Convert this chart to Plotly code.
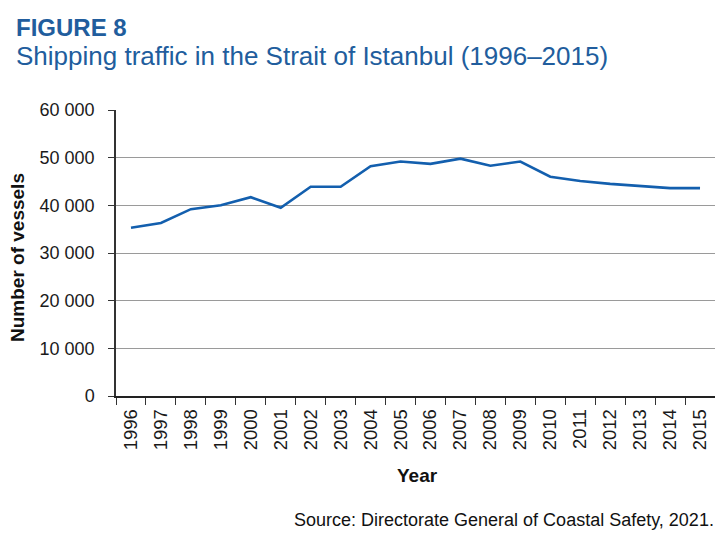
import plotly.graph_objects as go

years = [str(y) for y in range(1996, 2016)]
vessels = [35300, 36300, 39200, 40000, 41700, 39500, 43900, 43900, 48200, 49200,
           48700, 49800, 48300, 49200, 46000, 45100, 44500, 44000, 43600, 43600]
y_ticks = [0, 10000, 20000, 30000, 40000, 50000, 60000]

# page body has an 8px margin: figure drawn at offset (8, 8)
OFF = 8
W, H = 715, 527
L, R, T, B = 108, 8, 102, 139
PW, PH = W - L - R, H - T - B


def px(xs):
    return (xs - OFF - L) / PW


def py(ys):
    return (H - B - (ys - OFF)) / PH


blue = "#215d9d"
fig = go.Figure()
fig.add_trace(go.Scatter(x=years, y=vessels, mode="lines",
                         line=dict(color="#135fae", width=2.6)))

fig.update_layout(
    width=W, height=H,
    margin=dict(l=L, r=R, t=T, b=B, pad=0),
    plot_bgcolor="white", paper_bgcolor="white",
    separators=". ",
    showlegend=False,
    font=dict(family="Liberation Sans, Arial, sans-serif", color="#1a1a1a", size=18),
)
fig.update_xaxes(
    type="category", range=[-0.5, 19.5], tickson="boundaries", ticks="outside", ticklen=7,
    tickcolor="#333", tickangle=-90, tickfont=dict(size=18.5), ticklabelstandoff=4,
    showline=True, linecolor="#222", linewidth=1.5, showgrid=False,
)
fig.update_yaxes(
    range=[0, 60000], tickvals=y_ticks, tickformat=",", ticks="outside", ticklen=6,
    tickcolor="#333", tickfont=dict(size=18), ticklabelstandoff=10,
    showline=True, linecolor="#333", linewidth=1.5,
    showgrid=True, gridcolor="#9a9a9a", gridwidth=1, zeroline=False,
)
fig.add_annotation(text="<b>FIGURE 8</b>", xref="paper", yref="paper",
                   x=px(14), y=py(27), xanchor="left", yanchor="middle",
                   showarrow=False, font=dict(size=24, color=blue,
                                              family="Liberation Sans Narrow, Liberation Sans, Arial"))
fig.add_annotation(text="Shipping traffic in the Strait of Istanbul (1996–2015)", xref="paper", yref="paper",
                   x=px(14), y=py(56), xanchor="left", yanchor="middle",
                   showarrow=False, font=dict(size=26, color=blue))
fig.add_annotation(text="<b>Number of vessels</b>", xref="paper", yref="paper",
                   x=px(17), y=py(258), xanchor="center", yanchor="middle", textangle=-90,
                   showarrow=False, font=dict(size=19, color="#111"))
fig.add_annotation(text="<b>Year</b>", xref="paper", yref="paper",
                   x=px(417), y=py(475), xanchor="center", yanchor="middle",
                   showarrow=False, font=dict(size=19, color="#111"))
fig.add_annotation(text="Source: Directorate General of Coastal Safety, 2021.", xref="paper", yref="paper",
                   x=px(716), y=py(520), xanchor="right", yanchor="middle",
                   showarrow=False, font=dict(size=18, color="#111"))
fig.write_html("out.html")
